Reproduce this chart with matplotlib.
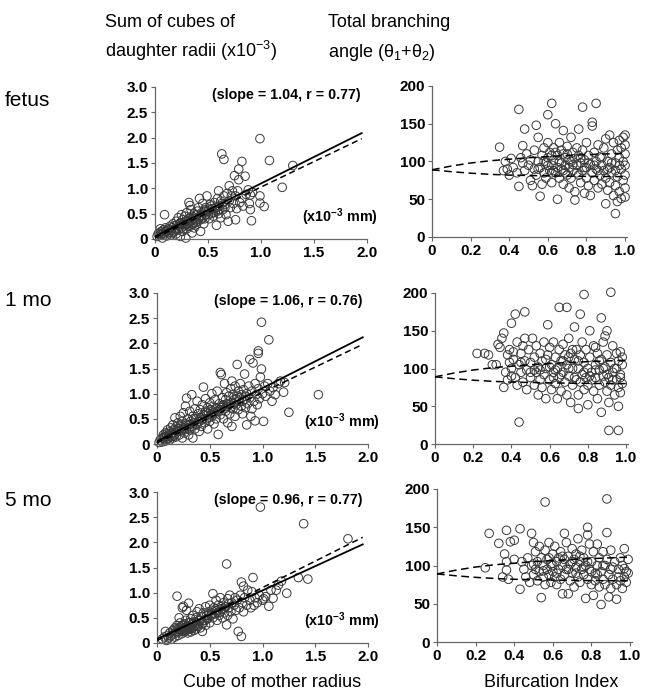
import matplotlib
matplotlib.use("Agg")
import matplotlib.pyplot as plt

plt.rcParams['font.family'] = ['Liberation Sans', 'DejaVu Sans']
plt.rcParams['mathtext.fontset'] = 'custom'
plt.rcParams['mathtext.rm'] = 'Liberation Sans'
plt.rcParams['mathtext.it'] = 'Liberation Sans:italic'
plt.rcParams['mathtext.bf'] = 'Liberation Sans:bold'

# ---- data ----
row_labels = ["fetus", "1 mo", "5 mo"]
slope_texts = ["(slope = 1.04, r = 0.77)", "(slope = 1.06, r = 0.76)", "(slope = 0.96, r = 0.77)"]

# sum of cubes of daughter radii vs cube of mother radius
fetus_cube = [
    (0.02, 0.05), (0.04, 0.12), (0.05, 0.08), (0.06, 0.15), (0.07, 0.02), (0.08, 0.18), (0.09, 0.10), (0.10, 0.14),
    (0.10, 0.22), (0.11, 0.06), (0.12, 0.19), (0.13, 0.12), (0.14, 0.25), (0.15, 0.16), (0.15, 0.08), (0.16, 0.22),
    (0.17, 0.30), (0.18, 0.14), (0.18, 0.26), (0.19, 0.20), (0.20, 0.35), (0.20, 0.10), (0.21, 0.28), (0.22, 0.18),
    (0.22, 0.42), (0.23, 0.25), (0.24, 0.32), (0.24, 0.05), (0.25, 0.22), (0.26, 0.38), (0.26, 0.15), (0.27, 0.30),
    (0.28, 0.26), (0.28, 0.45), (0.29, 0.02), (0.29, 0.35), (0.30, 0.20), (0.30, 0.52), (0.31, 0.30), (0.32, 0.40),
    (0.32, 0.72), (0.33, 0.66), (0.33, 0.25), (0.34, 0.35), (0.34, 0.58), (0.35, 0.45), (0.35, 0.12), (0.36, 0.30),
    (0.37, 0.50), (0.37, 0.22), (0.38, 0.40), (0.39, 0.28), (0.40, 0.55), (0.40, 0.35), (0.41, 0.62), (0.42, 0.45),
    (0.42, 0.80), (0.43, 0.15), (0.43, 0.38), (0.44, 0.52), (0.45, 0.70), (0.45, 0.42), (0.46, 0.30), (0.47, 0.58),
    (0.48, 0.48), (0.48, 0.62), (0.49, 0.85), (0.50, 0.55), (0.51, 0.40), (0.52, 0.68), (0.53, 0.50), (0.54, 0.60),
    (0.55, 0.45), (0.56, 0.72), (0.57, 0.55), (0.58, 0.27), (0.58, 0.62), (0.59, 0.80), (0.60, 0.50), (0.60, 0.95),
    (0.61, 0.65), (0.62, 0.42), (0.62, 0.75), (0.63, 1.68), (0.64, 0.58), (0.65, 1.57), (0.65, 0.85), (0.66, 0.68),
    (0.67, 0.48), (0.68, 0.90), (0.69, 0.35), (0.70, 0.75), (0.70, 1.05), (0.71, 0.62), (0.72, 0.85), (0.73, 0.95),
    (0.74, 0.70), (0.75, 1.25), (0.76, 0.38), (0.76, 0.85), (0.77, 0.60), (0.78, 0.95), (0.79, 1.38), (0.79, 1.17),
    (0.80, 0.72), (0.82, 1.53), (0.82, 0.80), (0.83, 0.65), (0.85, 1.24), (0.86, 0.88), (0.88, 0.97), (0.89, 0.70),
    (0.90, 0.87), (0.90, 0.58), (0.91, 0.36), (0.92, 0.92), (0.99, 1.98), (0.99, 0.85), (0.99, 0.71), (1.03, 0.64),
    (1.08, 1.55), (1.20, 1.02), (1.30, 1.45), (0.09, 0.48), (0.05, 0.20), (0.03, 0.10), (0.25, 0.48),
    (0.06, 0.10), (0.08, 0.12), (0.11, 0.16), (0.13, 0.20), (0.16, 0.12), (0.19, 0.16), (0.21, 0.22), (0.23, 0.30),
    (0.25, 0.28), (0.27, 0.20), (0.29, 0.28), (0.31, 0.36), (0.33, 0.42), (0.35, 0.30), (0.36, 0.40), (0.38, 0.32),
    (0.39, 0.48), (0.41, 0.40), (0.44, 0.45), (0.46, 0.55), (0.47, 0.40), (0.50, 0.48), (0.52, 0.58), (0.53, 0.65),
    (0.55, 0.52), (0.57, 0.62), (0.59, 0.55), (0.61, 0.58), (0.63, 0.70), (0.66, 0.62),
]
mo1_cube = [
    (0.02, 0.03), (0.03, 0.08), (0.05, 0.12), (0.05, 0.04), (0.06, 0.18), (0.07, 0.10), (0.08, 0.22), (0.08, 0.06),
    (0.09, 0.15), (0.10, 0.28), (0.10, 0.10), (0.11, 0.18), (0.12, 0.24), (0.12, 0.08), (0.13, 0.32), (0.14, 0.15),
    (0.14, 0.22), (0.15, 0.38), (0.15, 0.12), (0.16, 0.28), (0.17, 0.52), (0.17, 0.20), (0.18, 0.34), (0.18, 0.14),
    (0.19, 0.25), (0.20, 0.42), (0.20, 0.30), (0.21, 0.18), (0.22, 0.36), (0.22, 0.55), (0.23, 0.26), (0.24, 0.45),
    (0.24, 0.12), (0.25, 0.32), (0.25, 0.62), (0.26, 0.22), (0.27, 0.75), (0.27, 0.40), (0.28, 0.91), (0.28, 0.30),
    (0.29, 0.50), (0.30, 0.18), (0.30, 0.38), (0.31, 0.65), (0.31, 0.28), (0.32, 0.45), (0.33, 0.98), (0.33, 0.35),
    (0.34, 0.55), (0.34, 0.12), (0.35, 0.42), (0.36, 0.70), (0.36, 0.30), (0.37, 0.50), (0.38, 0.85), (0.38, 0.38),
    (0.39, 0.60), (0.40, 0.45), (0.40, 0.25), (0.41, 0.68), (0.42, 0.52), (0.42, 0.35), (0.43, 0.78), (0.44, 1.13),
    (0.44, 0.58), (0.45, 0.42), (0.46, 0.65), (0.46, 0.90), (0.47, 0.50), (0.48, 0.72), (0.48, 0.30), (0.49, 0.60),
    (0.50, 0.82), (0.50, 0.45), (0.51, 0.68), (0.52, 1.00), (0.52, 0.55), (0.53, 0.75), (0.54, 0.40), (0.54, 0.62),
    (0.55, 0.88), (0.56, 0.70), (0.56, 0.50), (0.57, 1.05), (0.58, 0.19), (0.58, 0.65), (0.59, 0.80), (0.60, 1.42),
    (0.60, 0.58), (0.61, 1.38), (0.61, 0.72), (0.62, 0.92), (0.63, 0.50), (0.63, 0.78), (0.64, 1.20), (0.65, 0.65),
    (0.65, 0.88), (0.66, 1.02), (0.67, 0.42), (0.67, 0.75), (0.68, 0.95), (0.69, 0.60), (0.70, 1.10), (0.70, 0.82),
    (0.71, 0.35), (0.71, 1.25), (0.72, 0.70), (0.72, 0.98), (0.73, 0.88), (0.74, 1.15), (0.74, 0.55), (0.75, 0.78),
    (0.76, 1.58), (0.76, 0.95), (0.77, 1.05), (0.77, 0.68), (0.78, 0.85), (0.79, 1.20), (0.80, 0.75), (0.80, 0.98),
    (0.81, 0.60), (0.82, 1.08), (0.83, 1.39), (0.83, 0.88), (0.84, 0.72), (0.85, 0.38), (0.85, 1.00), (0.86, 0.80),
    (0.87, 1.15), (0.88, 1.68), (0.88, 0.92), (0.89, 0.55), (0.90, 1.05), (0.90, 0.70), (0.91, 1.61), (0.92, 0.85),
    (0.93, 0.46), (0.93, 1.20), (0.94, 0.98), (0.95, 0.78), (0.96, 1.85), (0.96, 1.80), (0.96, 1.10), (0.97, 0.90),
    (0.98, 1.33), (0.99, 1.49), (0.99, 2.42), (1.00, 1.00), (1.01, 0.45), (1.02, 1.15), (1.03, 0.95), (1.05, 1.20),
    (1.06, 2.07), (1.07, 1.05), (1.09, 0.85), (1.10, 1.12), (1.12, 0.98), (1.15, 1.20), (1.17, 1.25), (1.20, 1.03),
    (1.21, 1.22), (1.25, 0.63), (1.53, 0.98),
    (0.07, 0.14), (0.09, 0.20), (0.11, 0.12), (0.13, 0.18), (0.15, 0.22), (0.16, 0.16), (0.19, 0.30), (0.21, 0.26),
    (0.23, 0.34), (0.26, 0.30), (0.28, 0.38), (0.30, 0.30), (0.32, 0.40), (0.35, 0.50), (0.37, 0.40), (0.39, 0.45),
    (0.41, 0.52), (0.43, 0.48), (0.45, 0.58), (0.47, 0.62), (0.49, 0.52), (0.51, 0.58), (0.53, 0.65), (0.55, 0.60),
    (0.57, 0.72), (0.59, 0.68), (0.62, 0.75), (0.64, 0.70), (0.66, 0.80), (0.68, 0.78), (0.70, 0.72), (0.73, 0.80),
    (0.75, 0.90), (0.78, 0.92), (0.81, 0.85), (0.84, 0.95),
]
mo5_cube = [
    (0.05, 0.08), (0.07, 0.12), (0.08, 0.23), (0.09, 0.05), (0.10, 0.15), (0.11, 0.10), (0.12, 0.20), (0.13, 0.14),
    (0.14, 0.08), (0.15, 0.25), (0.16, 0.18), (0.17, 0.30), (0.17, 0.12), (0.18, 0.22), (0.19, 0.93), (0.19, 0.35),
    (0.20, 0.28), (0.20, 0.15), (0.21, 0.50), (0.21, 0.22), (0.22, 0.32), (0.22, 0.40), (0.23, 0.26), (0.23, 0.18),
    (0.24, 0.35), (0.24, 0.70), (0.25, 0.73), (0.25, 0.28), (0.26, 0.22), (0.26, 0.38), (0.27, 0.30), (0.27, 0.45),
    (0.28, 0.25), (0.28, 0.65), (0.29, 0.34), (0.29, 0.20), (0.30, 0.79), (0.30, 0.40), (0.31, 0.28), (0.31, 0.32),
    (0.32, 0.48), (0.32, 0.22), (0.33, 0.36), (0.34, 0.30), (0.34, 0.55), (0.35, 0.42), (0.35, 0.25), (0.36, 0.35),
    (0.37, 0.50), (0.37, 0.28), (0.38, 0.62), (0.38, 0.40), (0.39, 0.33), (0.40, 0.45), (0.40, 0.68), (0.41, 0.30),
    (0.42, 0.52), (0.43, 0.38), (0.43, 0.23), (0.44, 0.60), (0.45, 0.45), (0.46, 0.72), (0.46, 0.35), (0.47, 0.55),
    (0.48, 0.48), (0.49, 0.62), (0.50, 0.40), (0.50, 0.75), (0.51, 0.55), (0.52, 0.65), (0.53, 0.98), (0.53, 0.50),
    (0.54, 0.70), (0.55, 0.58), (0.56, 0.85), (0.57, 0.45), (0.57, 0.65), (0.58, 0.75), (0.59, 0.55), (0.60, 0.90),
    (0.60, 0.62), (0.61, 0.68), (0.62, 0.50), (0.63, 0.80), (0.64, 0.60), (0.65, 0.72), (0.66, 1.57), (0.66, 0.36),
    (0.67, 0.88), (0.67, 0.55), (0.68, 0.70), (0.69, 0.95), (0.70, 0.62), (0.71, 0.80), (0.72, 0.48), (0.73, 0.75),
    (0.74, 0.90), (0.75, 0.65), (0.76, 0.85), (0.77, 0.23), (0.78, 0.70), (0.79, 0.95), (0.80, 0.13), (0.80, 1.21),
    (0.81, 0.80), (0.82, 1.13), (0.82, 0.62), (0.83, 0.90), (0.85, 0.75), (0.86, 1.05), (0.88, 0.85), (0.89, 0.70),
    (0.90, 1.02), (0.91, 1.30), (0.92, 0.75), (0.93, 0.90), (0.95, 0.80), (0.97, 0.95), (0.98, 2.70), (1.00, 0.85),
    (1.01, 0.88), (1.03, 0.92), (1.06, 0.73), (1.08, 1.05), (1.10, 0.89), (1.13, 1.05), (1.15, 1.15), (1.18, 1.23),
    (1.23, 0.99), (1.34, 1.30), (1.39, 2.37), (1.43, 1.27), (1.81, 2.07),
    (0.18, 0.28), (0.20, 0.22), (0.22, 0.26), (0.23, 0.32), (0.24, 0.24), (0.25, 0.35), (0.26, 0.30), (0.27, 0.26),
    (0.28, 0.32), (0.29, 0.28), (0.30, 0.33), (0.31, 0.40), (0.32, 0.30), (0.33, 0.28), (0.34, 0.40), (0.36, 0.42),
    (0.38, 0.35), (0.41, 0.45), (0.44, 0.40), (0.47, 0.48), (0.49, 0.55), (0.52, 0.58), (0.55, 0.65), (0.58, 0.60),
    (0.61, 0.72), (0.64, 0.68), (0.68, 0.78),
]

# total branching angle vs bifurcation index
fetus_angle = [
    (0.35, 119), (0.37, 88), (0.38, 100), (0.39, 90), (0.40, 82), (0.41, 104), (0.42, 92), (0.44, 85), (0.45, 169),
    (0.45, 67), (0.46, 105), (0.47, 121), (0.47, 98), (0.48, 143), (0.48, 88), (0.49, 110), (0.50, 95), (0.51, 75),
    (0.51, 102), (0.52, 68), (0.53, 90), (0.53, 115), (0.54, 148), (0.54, 82), (0.55, 100), (0.55, 132), (0.56, 54),
    (0.56, 92), (0.57, 108), (0.57, 70), (0.58, 85), (0.58, 118), (0.59, 98), (0.59, 78), (0.60, 162), (0.60, 105),
    (0.60, 125), (0.61, 88), (0.61, 112), (0.62, 177), (0.62, 95), (0.62, 72), (0.63, 102), (0.63, 118), (0.64, 150),
    (0.64, 85), (0.65, 50), (0.65, 108), (0.65, 92), (0.66, 125), (0.66, 78), (0.67, 98), (0.67, 115), (0.68, 141),
    (0.68, 88), (0.68, 70), (0.69, 105), (0.69, 95), (0.70, 120), (0.70, 82), (0.70, 110), (0.71, 92), (0.71, 65),
    (0.72, 100), (0.72, 132), (0.72, 78), (0.73, 112), (0.73, 88), (0.74, 60), (0.74, 104), (0.74, 49), (0.75, 95),
    (0.75, 118), (0.76, 82), (0.76, 143), (0.76, 108), (0.77, 72), (0.77, 98), (0.78, 172), (0.78, 115), (0.78, 88),
    (0.79, 58), (0.79, 102), (0.80, 92), (0.80, 125), (0.80, 78), (0.81, 108), (0.81, 68), (0.82, 96), (0.82, 55),
    (0.83, 152), (0.83, 147), (0.83, 85), (0.84, 112), (0.84, 75), (0.85, 177), (0.85, 100), (0.85, 90), (0.86, 122),
    (0.86, 65), (0.87, 82), (0.87, 106), (0.88, 95), (0.88, 70), (0.89, 118), (0.89, 88), (0.90, 44), (0.90, 130),
    (0.90, 78), (0.91, 100), (0.91, 62), (0.92, 135), (0.92, 92), (0.92, 72), (0.93, 110), (0.93, 85), (0.94, 55),
    (0.94, 125), (0.95, 31), (0.95, 98), (0.95, 68), (0.96, 115), (0.96, 80), (0.97, 105), (0.97, 60), (0.97, 128),
    (0.98, 90), (0.98, 51), (0.98, 118), (0.99, 75), (0.99, 100), (0.99, 132), (1.00, 53), (1.00, 65), (1.00, 82),
    (1.00, 95), (1.00, 110), (1.00, 122), (1.00, 135), (0.96, 47), (0.67, 90), (0.64, 112), (0.58, 100), (0.62, 108),
    (0.55, 90), (0.60, 95), (0.63, 88), (0.66, 100), (0.69, 85), (0.71, 102), (0.73, 96), (0.75, 85), (0.77, 105),
    (0.79, 92), (0.81, 98), (0.84, 95), (0.86, 88), (0.88, 105), (0.91, 90), (0.93, 98), (0.95, 88), (0.97, 95),
    (0.62, 85), (0.68, 110),
]
mo1_angle = [
    (0.22, 120), (0.26, 120), (0.28, 118), (0.30, 105), (0.32, 105), (0.33, 132), (0.34, 128), (0.35, 140), (0.36, 147),
    (0.36, 75), (0.37, 95), (0.38, 118), (0.38, 85), (0.39, 125), (0.40, 160), (0.40, 100), (0.41, 112), (0.42, 172),
    (0.42, 88), (0.43, 135), (0.43, 78), (0.44, 29), (0.44, 105), (0.45, 95), (0.45, 120), (0.46, 82), (0.47, 175),
    (0.47, 110), (0.47, 140), (0.48, 72), (0.48, 98), (0.49, 125), (0.50, 88), (0.50, 108), (0.51, 140), (0.52, 78),
    (0.52, 115), (0.53, 95), (0.53, 130), (0.54, 65), (0.54, 102), (0.55, 85), (0.55, 120), (0.56, 110), (0.56, 75),
    (0.57, 135), (0.57, 92), (0.58, 100), (0.58, 60), (0.59, 158), (0.59, 118), (0.60, 85), (0.60, 128), (0.61, 72),
    (0.61, 105), (0.62, 95), (0.62, 135), (0.63, 80), (0.63, 115), (0.64, 60), (0.64, 100), (0.65, 181), (0.65, 125),
    (0.65, 88), (0.66, 110), (0.66, 70), (0.67, 132), (0.67, 95), (0.68, 82), (0.68, 118), (0.69, 181), (0.69, 105),
    (0.69, 65), (0.70, 140), (0.70, 90), (0.71, 120), (0.71, 55), (0.72, 100), (0.72, 78), (0.73, 112), (0.73, 155),
    (0.74, 85), (0.74, 125), (0.75, 65), (0.75, 100), (0.75, 47), (0.76, 172), (0.76, 118), (0.76, 82), (0.77, 135),
    (0.77, 92), (0.78, 198), (0.78, 108), (0.78, 72), (0.79, 88), (0.79, 125), (0.80, 52), (0.80, 100), (0.80, 78),
    (0.81, 150), (0.81, 115), (0.82, 85), (0.82, 95), (0.83, 130), (0.83, 70), (0.84, 105), (0.84, 88), (0.85, 120),
    (0.85, 60), (0.86, 98), (0.86, 78), (0.87, 167), (0.87, 42), (0.87, 112), (0.88, 90), (0.88, 135), (0.89, 82),
    (0.89, 102), (0.90, 150), (0.90, 70), (0.90, 118), (0.91, 88), (0.91, 18), (0.91, 55), (0.92, 201), (0.92, 108),
    (0.92, 78), (0.93, 95), (0.93, 130), (0.94, 65), (0.94, 100), (0.95, 85), (0.95, 120), (0.96, 18), (0.96, 50),
    (0.96, 75), (0.96, 110), (0.97, 92), (0.97, 68), (0.97, 122), (0.98, 80), (0.98, 105), (0.98, 115), (0.89, 143),
    (0.84, 128), (0.72, 125), (0.67, 110), (0.63, 98), (0.58, 112), (0.52, 98), (0.46, 130), (0.41, 122), (0.39, 108),
    (0.40, 90), (0.45, 108), (0.50, 95), (0.55, 98), (0.60, 102), (0.62, 88), (0.66, 92), (0.70, 100), (0.73, 88),
    (0.75, 110), (0.78, 95), (0.81, 90), (0.84, 98), (0.86, 110), (0.88, 100), (0.90, 92), (0.93, 85), (0.95, 100),
    (0.97, 88), (0.70, 115),
]
mo5_angle = [
    (0.25, 97), (0.27, 142), (0.32, 129), (0.34, 85), (0.35, 115), (0.36, 146), (0.36, 105), (0.36, 94), (0.37, 82),
    (0.38, 131), (0.40, 133), (0.40, 108), (0.43, 148), (0.43, 69), (0.44, 105), (0.45, 95), (0.46, 85), (0.47, 110),
    (0.48, 78), (0.49, 142), (0.49, 100), (0.50, 130), (0.50, 88), (0.51, 118), (0.51, 95), (0.52, 105), (0.52, 80),
    (0.53, 125), (0.53, 92), (0.54, 58), (0.54, 110), (0.55, 85), (0.55, 100), (0.56, 183), (0.56, 120), (0.56, 75),
    (0.57, 95), (0.57, 108), (0.58, 88), (0.58, 130), (0.59, 102), (0.59, 78), (0.60, 115), (0.60, 92), (0.61, 125),
    (0.61, 85), (0.62, 105), (0.62, 75), (0.63, 110), (0.63, 95), (0.64, 118), (0.64, 82), (0.65, 63), (0.65, 100),
    (0.66, 142), (0.66, 108), (0.66, 88), (0.67, 130), (0.67, 95), (0.68, 63), (0.68, 112), (0.69, 80), (0.69, 102),
    (0.70, 122), (0.70, 90), (0.71, 108), (0.71, 72), (0.72, 98), (0.72, 115), (0.73, 85), (0.73, 135), (0.74, 105),
    (0.74, 78), (0.75, 95), (0.75, 120), (0.76, 88), (0.76, 110), (0.77, 57), (0.77, 100), (0.78, 150), (0.78, 140),
    (0.78, 82), (0.79, 128), (0.79, 95), (0.80, 105), (0.80, 75), (0.81, 61), (0.81, 118), (0.82, 90), (0.82, 80),
    (0.83, 128), (0.83, 100), (0.84, 72), (0.84, 110), (0.85, 49), (0.85, 92), (0.86, 118), (0.86, 82), (0.87, 100),
    (0.87, 75), (0.88, 187), (0.88, 143), (0.88, 108), (0.89, 59), (0.89, 88), (0.90, 120), (0.90, 70), (0.91, 98),
    (0.91, 82), (0.92, 105), (0.93, 56), (0.93, 75), (0.94, 95), (0.95, 110), (0.95, 80), (0.96, 70), (0.96, 100),
    (0.97, 122), (0.97, 96), (0.97, 85), (0.98, 92), (0.98, 78), (0.99, 108), (0.99, 90),
    (0.50, 102), (0.55, 93), (0.58, 110), (0.60, 100), (0.62, 90), (0.65, 112), (0.68, 95), (0.70, 105), (0.72, 90),
    (0.74, 112), (0.76, 98), (0.78, 105), (0.80, 92), (0.83, 88), (0.86, 100), (0.90, 95), (0.94, 85),
]

# regression line (solid) and line of identity (dashed) end points
line_x = [0.0, 1.95]
fit_lines = [[0.05, 2.09], [0.05, 2.12], [0.08, 1.96]]
ident_lines = [[0.02, 1.98], [0.02, 1.98], [0.05, 2.10]]

# predicted angle curves (dashed) on the right panels
curve_x = [0.0, 0.1, 0.2, 0.3, 0.4, 0.5, 0.6, 0.7, 0.8, 0.9, 1.0]
curve_upper = [89, 94, 98, 101, 103, 105, 106.5, 108, 109, 110, 111]
curve_lower = [89, 86.5, 84.5, 83, 82, 81.5, 81, 80.6, 80.3, 80.1, 80]

cube_sets = [fetus_cube, mo1_cube, mo5_cube]
angle_sets = [fetus_angle, mo1_angle, mo5_angle]

# axes boxes in pixels (left, top, right, bottom) from the 645x692 picture
W, H = 645, 692
left_boxes = [(155, 87, 367, 239), (157, 293, 368, 444), (157, 492, 368, 643)]
right_boxes = [(432, 86, 627, 237), (435, 293, 628, 444), (437, 489, 632, 642)]


def box(b):
    l, t, r, bt = b
    return [l / W, 1 - bt / H, (r - l) / W, (bt - t) / H]


def style(ax):
    for s in ['top', 'right']:
        ax.spines[s].set_visible(False)
    for s in ['left', 'bottom']:
        ax.spines[s].set_color('#666666')
        ax.spines[s].set_linewidth(0.9)
    ax.tick_params(direction='out', length=3, width=0.8, color='#666666', pad=2)
    for lab in ax.get_xticklabels() + ax.get_yticklabels():
        lab.set_fontweight('bold')
        lab.set_fontsize(11)


fig = plt.figure(figsize=(6.45, 6.92), dpi=100)
mk = dict(s=38, facecolors='none', edgecolors='#3a3a3a', linewidths=0.7, clip_on=False, zorder=2)

for i in range(3):
    # left column
    ax = fig.add_axes(box(left_boxes[i]))
    xs, ys = zip(*cube_sets[i])
    ax.scatter(xs, ys, **mk)
    ax.plot(line_x, fit_lines[i], color='black', lw=1.3, zorder=3)
    ax.plot(line_x, ident_lines[i], color='black', lw=1.1, ls=(0, (4, 2.5)), zorder=3)
    ax.set_xlim(0, 2.0)
    ax.set_ylim(0, 3.0)
    ax.set_xticks([0, 0.5, 1.0, 1.5, 2.0])
    ax.set_xticklabels(['0', '0.5', '1.0', '1.5', '2.0'])
    ax.set_yticks([0, 0.5, 1.0, 1.5, 2.0, 2.5, 3.0])
    ax.set_yticklabels(['0', '0.5', '1.0', '1.5', '2.0', '2.5', '3.0'])
    style(ax)
    ax.text(0.54, 2.84, slope_texts[i], fontsize=10.3, fontweight='bold', va='center')
    ax.text(1.39, 0.43, r"(x10$^{\mathbf{-3}}$ mm)", fontsize=10.3, fontweight='bold', va='center')

    # right column
    ax2 = fig.add_axes(box(right_boxes[i]))
    xs, ys = zip(*angle_sets[i])
    ax2.scatter(xs, ys, **mk)
    ax2.plot(curve_x, curve_upper, color='black', lw=1.1, ls=(0, (5, 3)), zorder=3)
    ax2.plot(curve_x, curve_lower, color='black', lw=1.1, ls=(0, (5, 3)), zorder=3)
    ax2.set_xlim(0, 1.01)
    ax2.set_ylim(0, 200)
    ax2.set_xticks([0, 0.2, 0.4, 0.6, 0.8, 1.0])
    ax2.set_xticklabels(['0', '0.2', '0.4', '0.6', '0.8', '1.0'])
    ax2.set_yticks([0, 50, 100, 150, 200])
    style(ax2)

    # row label
    fig.text(5 / W, 1 - [100, 301, 501][i] / H, row_labels[i], fontsize=15, va='center', ha='left')

# column headers
fig.text(105 / W, 1 - 27 / H, "Sum of cubes of", fontsize=13, va='baseline')
fig.text(105 / W, 1 - 57 / H, r"daughter radii (x10$^{-3}$)", fontsize=13, va='baseline')
fig.text(328 / W, 1 - 27 / H, "Total branching", fontsize=13, va='baseline')
fig.text(328 / W, 1 - 57 / H, r"angle (θ$_1$+θ$_2$)", fontsize=13, va='baseline')

# x labels
fig.text(272 / W, 1 - 687 / H, "Cube of mother radius", fontsize=13, ha='center', va='baseline')
fig.text(551 / W, 1 - 687 / H, "Bifurcation Index", fontsize=13, ha='center', va='baseline')

fig.savefig("out.png", dpi=100)
